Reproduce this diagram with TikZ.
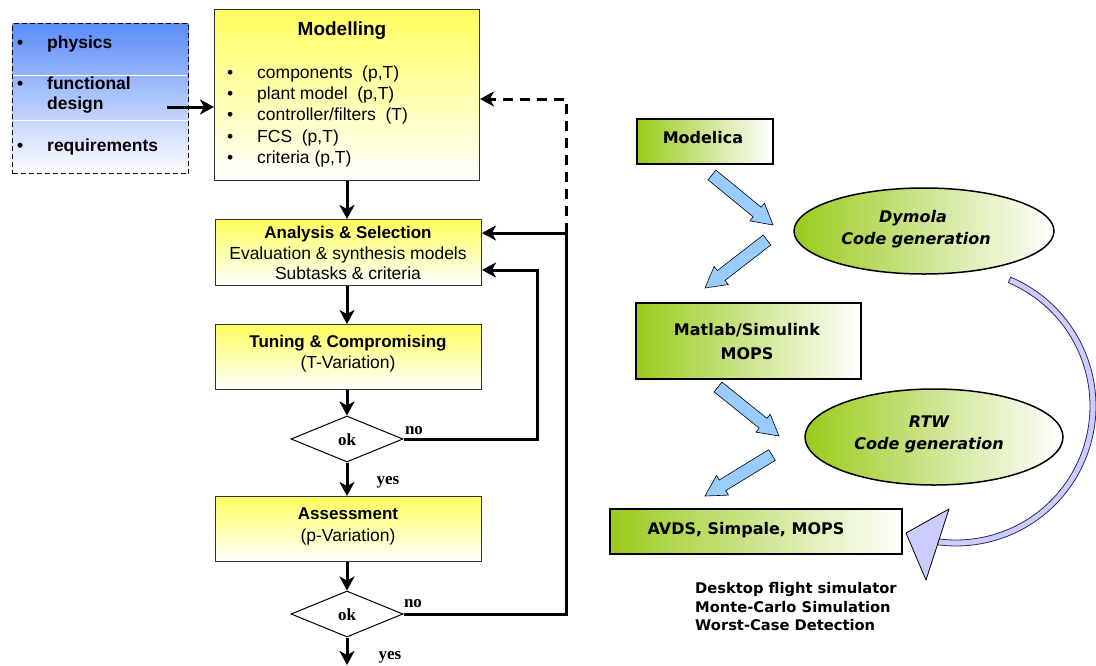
\documentclass[tikz,border=0pt]{standalone}
\usepackage{fontspec}
\setmainfont{Liberation Sans}
\newfontfamily\timesf{Liberation Serif}
\newfontfamily\dv{DejaVu Sans}
\usetikzlibrary{arrows.meta,shapes.geometric,calc}
\definecolor{bluetop}{HTML}{5B8CF8}
\definecolor{yellowtop}{HTML}{FFFF5E}
\definecolor{greenleft}{HTML}{9ACB1E}
\definecolor{arrowblue}{HTML}{99CCFF}
\definecolor{lav}{HTML}{CCCCFF}
\definecolor{lavdark}{HTML}{2A2A55}
\newcommand\fatarr[2]{%
  \coordinate (fah) at ($(#2)!20.5pt!(#1)$);
  \filldraw[fatstyle] ($(#1)!6.25pt!90:(#2)$) -- ($(fah)!6.25pt!90:(#2)$) -- ($(fah)!11.5pt!90:(#2)$) -- (#2)
    -- ($(fah)!11.5pt!-90:(#2)$) -- ($(fah)!6.25pt!-90:(#2)$) -- ($(#1)!6.25pt!-90:(#2)$) -- cycle;}
\begin{document}
\begin{tikzpicture}[x=1pt,y=-1pt,
  conn/.style={line width=3pt, -{Stealth[length=14pt,width=15pt,inset=4pt]}},
  dconn/.style={conn, dash pattern=on 10pt off 7pt},
  ybox/.style={draw=black!80, line width=1pt, top color=yellowtop, bottom color=white, inner sep=0, anchor=north west},
  gbox/.style={draw=black, line width=1.8pt, left color=greenleft, right color=white, inner sep=0, anchor=north west},
  gell/.style={ellipse, draw=black, line width=1.5pt, left color=greenleft, right color=white, inner sep=0},
  dia/.style={diamond, draw=black, line width=1pt, fill=white, inner sep=0, minimum width=112, minimum height=46},
  txt/.style={inner sep=0, yshift=-4pt},
  ft/.style={txt, font=\fontsize{17.5}{21}\selectfont},
  fb/.style={txt, font=\bfseries\fontsize{17}{21}\selectfont},
  lb/.style={txt, font=\bfseries\fontsize{17.5}{21}\selectfont, anchor=mid west},
  tb/.style={txt, font=\timesf\bfseries\fontsize{17}{20}\selectfont},
  rt/.style={txt, font=\dv\bfseries\fontsize{16}{19}\selectfont},
  ri/.style={txt, font=\dv\bfseries\itshape\fontsize{16}{19}\selectfont},
  rs/.style={txt, font=\dv\bfseries\fontsize{14.7}{19}\selectfont, anchor=mid west},
  fatstyle/.style={fill=arrowblue, draw=black, line width=0.6pt}]
\useasboundingbox (0,0) rectangle (1096,665);
% left input box
\node[draw=black, line width=1.2pt, dash pattern=on 5pt off 3pt, top color=bluetop, bottom color=white,
  minimum width=176, minimum height=150, anchor=north west, inner sep=0] (inbox) at (12,23) {};
\draw[white, line width=1pt] (13,75) -- (187,75) (13,120) -- (187,120);
\node[lb] (b1) at (17,42) {\textbullet};
\node[lb] (b2) at (17,83) {\textbullet};
\node[lb] (b3) at (17,145) {\textbullet};
\node[lb] (t1) at (47,42) {physics};
\node[lb] (t2) at (47,83) {functional};
\node[lb] (t3) at (47,103) {design};
\node[lb] (t4) at (47,145) {requirements};
% flow boxes
\node[ybox, minimum width=265, minimum height=171] (mod) at (214,9) {};
\node[ybox, minimum width=266, minimum height=66] (ana) at (215,219) {};
\node[ybox, minimum width=266, minimum height=65] (tun) at (215,324) {};
\node[ybox, minimum width=266, minimum height=65] (ass) at (215,496) {};
\node[txt, font=\bfseries\fontsize{19}{22}\selectfont, anchor=mid] (modt) at (342,29) {Modelling};
\foreach \y/\t [count=\i] in {72/{components\ \ (p,T)}, 93/{plant model\ \ (p,T)}, 114/{controller/filters\ \ (T)}, 136/{FCS\ \ (p,T)}, 157/{criteria (p,T)}}{
  \node[ft, anchor=mid west] (mb\i) at (227,\y) {\textbullet};
  \node[ft, anchor=mid west] (ml\i) at (257,\y) {\t};
}
\node[fb, anchor=mid] (anat) at (348,232) {Analysis \& Selection};
\node[ft, anchor=mid] (ana1) at (348,253) {Evaluation \& synthesis models};
\node[ft, anchor=mid] (ana2) at (348,273) {Subtasks \& criteria};
\node[fb, anchor=mid] (tunt) at (348,341) {Tuning \& Compromising};
\node[ft, anchor=mid] (tun1) at (348,362) {(T-Variation)};
\node[fb, anchor=mid] (asst) at (348,513) {Assessment};
\node[ft, anchor=mid] (ass1) at (348,535) {(p-Variation)};
% decisions
\node[dia] (d1) at (347,439) {};
\node[tb, anchor=mid] at (d1) {ok};
\node[dia] (d2) at (347,614) {};
\node[tb, anchor=mid] at (d2) {ok};
\node[tb, anchor=mid] (no1) at (414,428) {no};
\node[tb, anchor=mid] (yes1) at (388,478) {yes};
\node[tb, anchor=mid] (no2) at (413,601) {no};
\node[tb, anchor=mid] (yes2) at (390,653) {yes};
% connectors
\coordinate (la) at (167,107);
\draw[conn] (la) -- (la -| mod.west);
\draw[conn] (mod.south -| 347,0) -- (347,219);
\draw[conn] (ana.south -| 347,0) -- (347,324);
\draw[conn] (tun.south -| 347,0) -- (d1.north);
\draw[conn] (d1.south) -- (347,496);
\draw[conn] (ass.south -| 347,0) -- (d2.north);
\coordinate (bot) at (347,665);
\draw[conn] (d2.south) -- (bot);
\coordinate (r1) at (537,270);
\draw[conn] (d1.east) -| (r1) -- (r1 -| ana.east);
\coordinate (r2) at (566,233);
\draw[conn] (d2.east) -| (r2) -- (r2 -| ana.east);
\coordinate (r3) at (566,99);
\draw[dconn] (r2) -- (r3) -- (r3 -| mod.east);
% right side
\node[gbox, minimum width=136, minimum height=45] (modelica) at (636,118) {};
\node[rt, anchor=mid] at (703,137) {Modelica};
\node[gell, minimum width=260, minimum height=86] (dym) at (924,231) {};
\node[ri, anchor=mid] at (913,216) {Dymola};
\node[ri, anchor=mid] at (916,238) {Code generation};
\node[gbox, minimum width=225, minimum height=76] (mat) at (635,302) {};
\node[rt, anchor=mid] at (747,329) {Matlab/Simulink};
\node[rt, anchor=mid] at (747,353) {MOPS};
\node[gell, minimum width=258, minimum height=96] (rtw) at (934,437) {};
\node[ri, anchor=mid] at (929,421) {RTW};
\node[ri, anchor=mid] at (929,443) {Code generation};
\node[gbox, minimum width=292, minimum height=45] (avds) at (609,508) {};
\node[rt, anchor=mid] at (746,528) {AVDS, Simpale, MOPS};
\node[rs] at (695,587) {Desktop flight simulator};
\node[rs] at (695,606) {Monte-Carlo Simulation};
\node[rs] at (695,624) {Worst-Case Detection};
% fat arrows
\coordinate (a1s) at (712,175); \coordinate (a1e) at (773,225);
\coordinate (a2s) at (767,240); \coordinate (a2e) at (705,288);
\coordinate (a3s) at (718,387); \coordinate (a3e) at (779,436);
\coordinate (a4s) at (772,455); \coordinate (a4e) at (705,496);
\fatarr{a1s}{a1e}
\fatarr{a2s}{a2e}
\fatarr{a3s}{a3e}
\fatarr{a4s}{a4e}
% big curved arrow
\filldraw[fill=lav, draw=lavdark, line width=0.8pt]
  plot[domain=-67:97.5, samples=80] ({956+140*cos(\x)}, {406+140*sin(\x)})
  -- plot[domain=97.5:-67, samples=80] ({956+134*cos(\x)}, {406+134*sin(\x)}) -- cycle;
\coordinate (tipA) at (906,533); \coordinate (tipB) at (949,509); \coordinate (tipC) at (926,580);
\filldraw[fill=lav, draw=black, line width=0.8pt, line join=round] (tipA) -- (tipB) -- (tipC) -- cycle;
\end{tikzpicture}
\end{document}
